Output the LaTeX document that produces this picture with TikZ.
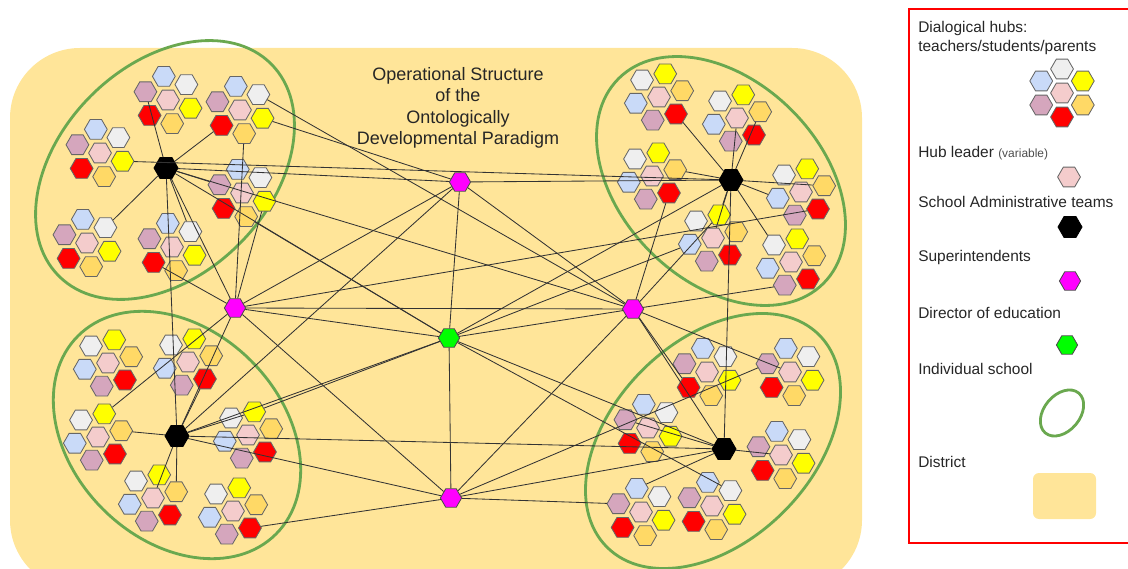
\documentclass[tikz,border=0pt]{standalone}
\usepackage{fontspec}
\setmainfont{Liberation Sans}
\usetikzlibrary{shapes.geometric,calc}

\definecolor{district}{HTML}{FFE599}
\definecolor{schoolgreen}{HTML}{6AA84F}
\definecolor{hwhite}{HTML}{EFEFEF}
\definecolor{hyellow}{HTML}{FFFF00}
\definecolor{horange}{HTML}{FFD966}
\definecolor{hred}{HTML}{FF0000}
\definecolor{hmauve}{HTML}{D5A6BD}
\definecolor{hblue}{HTML}{C9DAF8}
\definecolor{hpink}{HTML}{F4CCCC}
\definecolor{supcol}{HTML}{FF00FF}
\definecolor{dircol}{HTML}{00FF00}

\begin{document}
\begin{tikzpicture}[x=0.025cm,y=-0.025cm,
  hex/.style={regular polygon,regular polygon sides=6,minimum size=0.57cm,inner sep=0pt,draw=black!60,line width=0.6pt},
  admin/.style={hex,fill=black,draw=black,minimum size=0.6cm},
  super/.style={hex,fill=supcol,draw=black!70,minimum size=0.53cm},
  director/.style={hex,fill=dircol,draw=black!70,minimum size=0.53cm},
  school/.style={draw=schoolgreen,line width=2pt},
  link/.style={draw=black!80,line width=0.6pt},
  legtext/.style={anchor=base west,inner sep=0pt,font=\fontsize{11}{13}\selectfont,text=black!85}]
\useasboundingbox (0,0) rectangle (1128,569);
\clip (0,0) rectangle (1128,569);

% district and schools
\fill[district,rounded corners=1.75cm] (10,48) rectangle (862,590);
\draw[school,rotate around={45:(165,170)}] (165,170) ellipse [x radius=3.75cm,y radius=2.62cm];
\draw[school,rotate around={-45:(721,181)}] (721,181) ellipse [x radius=3.62cm,y radius=2.5cm];
\draw[school,rotate around={-45:(177,435)}] (177,435) ellipse [x radius=3.5cm,y radius=2.62cm];
\draw[school,rotate around={45:(713,441)}] (713,441) ellipse [x radius=3.75cm,y radius=2.5cm];

\node[align=center,anchor=north,inner sep=0pt,font=\fontsize{12.8}{15.2}\selectfont,text=black!85] (title) at (458,67)
  {Operational Structure\\of the\\Ontologically\\Developmental Paradigm};

% dialogical hubs
\foreach \h/\cx/\cy/\a in {tla/168/100/-40, tlb/240/110/-40, tlc/100/153/-40, tld/242/193/-40, tle/87/243/-40, tlf/172/247/-40,
    tra/659/97/-135, trb/737/118/-135, trc/652/176/-135, trd/801/192/-135, tre/713/238/-135, trf/791/262/-135,
    bla/108/363/-135, blb/188/362/-135, blc/98/437/-135, bld/248/435/-135, ble/153/498/-135, blf/233/511/-135,
    bra/707/372/-40, brb/790/372/-40, brc/648/428/-40, brd/781/455/-40, bre/641/512/-40, brf/712/506/-40,
    leg/1062/93/-90} {
  \node[hex,fill=hpink] (\h-p) at (\cx,\cy) {};
  \foreach \c/\k [count=\i from 0] in {hwhite/w,hyellow/y,horange/o,hred/r,hmauve/m,hblue/b}
    \node[hex,fill=\c] (\h-\k) at ($(\cx,\cy)+(\a+60*\i:24)$) {};
}

% administration
\node[admin] (admTL) at (166,168) {};
\node[admin] (admTR) at (731,180) {};
\node[admin] (admBL) at (177,436) {};
\node[admin] (admBR) at (724,449) {};
\node[super] (supT) at (460,182) {};
\node[super] (supL) at (235,308) {};
\node[super] (supR) at (633,309) {};
\node[super] (supB) at (451,498) {};
\node[director] (dir) at (449,338) {};

\foreach \a/\b in {tlc-y/admTR, admTL/supT, admTL/supR, admTL/supL, admTL/admBL, admTL/dir,
    supT/admTR, supT/supL, supT/supR, supT/dir, supT/admBL,
    supL/supR, supL/dir, supL/supB, supL/admBL,
    supR/dir, supR/supB, supR/admBR,
    dir/supB, dir/admTR, dir/admBL, dir/admBR,
    admBL/admBR, admBL/supB, supB/admBR, admTR/admBR}
  \draw[link] (\a) -- (\b);

\foreach \a/\b in {admTL/tla-m, admTL/tlb-r, admTL/tld-m, admTL/tle-w, admTL/tlf-w,
    tlb-o/supL, tld-y/supL, tlb-y/supT, tlb-w/supR, tld-o/dir, tlf-r/supL,
    admTR/tra-r, admTR/trb-p, admTR/trb-o, admTR/trc-o, admTR/tre-y, admTR/tre-p, admTR/trd-b, admTR/trf-w, admTR/trd-o,
    supR/trc-r, supR/tre-y, supR/trf-m, supL/trd-r, dir/tre-b,
    admBL/blc-o, admBL/blb-r, admBL/ble-o, admBL/ble-p, admBL/bld-y, supL/blc-y, bld-y/dir, blf-r/supB,
    admBR/brd-p, admBR/bre-b, admBR/brc-m, dir/brf-w, supR/brb-p, supB/bre-m, supB/brb-m, supR/bra-r}
  \draw[link] (\a) -- (\b);

% legend
\draw[red,line width=2pt] (1140,9) -- (909,9) -- (909,543) -- (1140,543);
\node[legtext] (lhub1) at (918,33) {Dialogical hubs:};
\node[legtext] (lhub2) at (918,52) {teachers/students/parents};
\node[legtext] (llead) at (918,158) {Hub leader {\fontsize{8.5}{10}\selectfont\color{black!70}(variable)}};
\node[hex,fill=hpink] (kLead) at (1069,177) {};
\node[legtext] (ladmin) at (918,208) {School Administrative teams};
\node[admin] (kAdmin) at (1070,227) {};
\node[legtext] (lsuper) at (918,262) {Superintendents};
\node[super] (kSuper) at (1070,281) {};
\node[legtext] (ldir) at (918,319) {Director of education};
\node[director] (kDir) at (1067,345) {};
\node[legtext] (lschool) at (918,375) {Individual school};
\draw[school,rotate around={50:(1062,413)}] (1062,413) ellipse [x radius=0.65cm,y radius=0.45cm];
\node[legtext] (ldistrict) at (918,467) {District};
\fill[district,rounded corners=0.15cm] (1033,473) rectangle (1096,519);
\end{tikzpicture}
\end{document}
